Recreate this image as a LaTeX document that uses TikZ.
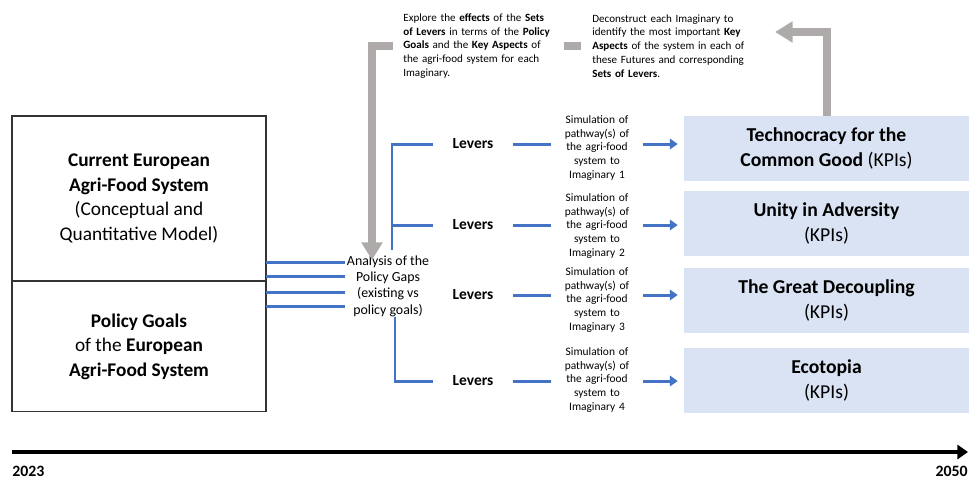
\documentclass[tikz,border=0pt]{standalone}
\usepackage{fontspec}
\setmainfont{Carlito}
\usetikzlibrary{arrows.meta,positioning}

\definecolor{linkblue}{HTML}{4472C4}
\definecolor{futblue}{HTML}{DAE3F3}
\definecolor{flowgray}{HTML}{AEAAAA}

\tikzset{
  sysbox/.style={draw=black!80, line width=0.6pt, outer sep=0pt, minimum width=5.08cm, align=center,
    font=\fontsize{11}{13.9}\selectfont},
  futbox/.style={fill=futblue, minimum width=5.7cm, minimum height=1.3cm, align=center,
    font=\fontsize{11.2}{14.2}\selectfont},
  lever/.style={minimum width=1.6cm, inner sep=0pt, font=\fontsize{8.8}{10}\selectfont\bfseries},
  simtext/.style={text width=1.84cm, inner sep=0pt, align=center, font=\fontsize{6.5}{7.9}\selectfont},
  note/.style={inner sep=0pt, align=left, anchor=west, font=\fontsize{6.3}{7.9}\selectfont},
  year/.style={font=\fontsize{9}{10}\selectfont\bfseries},
  bluelink/.style={linkblue, line width=1.7pt},
  bluearrow/.style={bluelink, -{Triangle[length=4.5pt,width=6pt]}, shorten >=0.12cm},
  grayflow/.style={flowgray, line width=4pt},
  grayarrow/.style={grayflow, -{Triangle[length=10pt,width=11.5pt]}},
}

\begin{document}
\begin{tikzpicture}[x=0.02cm, y=-0.02cm]
  \useasboundingbox (0,0) rectangle (970,481);

  % today
  \node[sysbox, minimum height=3.3cm] (cur) at (139,198.5)
    {\textbf{Current European}\\\textbf{Agri-Food System}\\(Conceptual and\\Quantitative Model)};
  \node[sysbox, minimum height=2.62cm, below=0pt of cur] (goal)
    {\textbf{Policy Goals}\\of the \textbf{European}\\\textbf{Agri-Food System}};

  \node[font=\fontsize{7.9}{9.3}\selectfont, align=center, inner sep=1pt] (ana) at (388,286)
    {Analysis of the\\Policy Gaps\\(existing vs\\policy goals)};

  % levers and simulations
  \node[lever] (lev1) at (473,144) {Levers};
  \node[lever] (lev2) at (473,225) {Levers};
  \node[lever] (lev3) at (473,295) {Levers};
  \node[lever] (lev4) at (473,381) {Levers};

  \node[simtext] (sim1) at (597,148) {Simulation of\\pathway(s) of\\the agri-food\\system to\\Imaginary 1};
  \node[simtext] (sim2) at (597,226) {Simulation of\\pathway(s) of\\the agri-food\\system to\\Imaginary 2};
  \node[simtext] (sim3) at (597,300) {Simulation of\\pathway(s) of\\the agri-food\\system to\\Imaginary 3};
  \node[simtext] (sim4) at (597,380) {Simulation of\\pathway(s) of\\the agri-food\\system to\\Imaginary 4};

  % futures
  \node[futbox] (fut1) at (826.5,148.5) {\textbf{Technocracy for the}\\\textbf{Common Good} (KPIs)};
  \node[futbox] (fut2) at (826.5,223.5) {\textbf{Unity in Adversity}\\(KPIs)};
  \node[futbox] (fut3) at (826.5,300) {\textbf{The Great Decoupling}\\(KPIs)};
  \node[futbox] (fut4) at (826.5,380) {\textbf{Ecotopia}\\(KPIs)};

  % notes on top
  \node[note, text width=3.1cm] (expl) at (403,46)
    {Explore the \textbf{effects} of the \textbf{Sets}\\\textbf{of Levers} in terms of the \textbf{Policy}\\\textbf{Goals} and the \textbf{Key Aspects} of\\the agri-food system for each\\Imaginary.};
  \node[note, text width=3.2cm] (dec) at (592,46)
    {Deconstruct each Imaginary to\\identify the most important \textbf{Key}\\\textbf{Aspects} of the system in each of\\these Futures and corresponding\\\textbf{Sets of Levers}.};

  \coordinate (decin) at (775,32);
  \coordinate (anain) at (372,260);

  % blue links
  \foreach \yy in {262,276,292,306}
    \draw[bluelink] (cur.east |- 0,\yy) -- (ana.west |- 0,\yy);
  \draw[bluelink] (ana.north) ++(4,-3) |- (lev1.west);
  \draw[bluelink] (ana.north) ++(4,-30) |- (lev2.west);
  \draw[bluelink] (ana.south) ++(7,-2) |- (lev4.west);
  \foreach \i in {1,2,3,4} {
    \draw[bluelink] (lev\i.east) -- (lev\i.east -| sim\i.west);
    \draw[bluearrow] (sim\i.east |- lev\i.east) -- (lev\i.east -| fut\i.west);
  }

  % gray flow
  \draw[grayarrow] (fut1.north -| 827,0) |- (decin);
  \draw[grayflow, shorten <=0.1cm, shorten >=0.22cm] (expl.east) -- (dec.west);
  \draw[grayarrow, shorten <=0.2cm] (expl.west) -| (anain);

  % time line
  \coordinate (t0) at (12,452);
  \coordinate (t1) at (968,452);
  \draw[line width=2.2pt, -{Triangle[length=6pt,width=8pt]}] (t0) -- (t1);
  \node[year, anchor=west, inner sep=0pt] (y0) at (12,471) {2023};
  \node[year, anchor=east, inner sep=0pt] (y1) at (968,471) {2050};
\end{tikzpicture}
\end{document}
